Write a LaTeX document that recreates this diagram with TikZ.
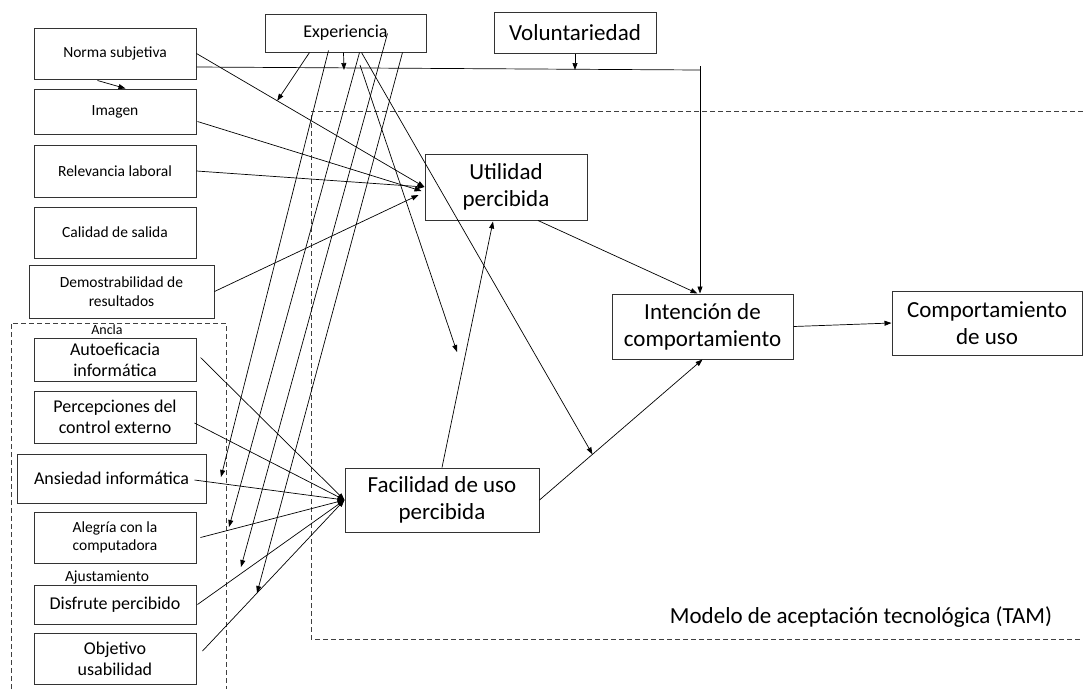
\documentclass[tikz,border=0pt]{standalone}
\usepackage{fontspec}
\setmainfont{Carlito}
\usetikzlibrary{arrows.meta,calc}
\begin{document}
\begin{tikzpicture}[x=1pt,y=-1pt,
  box/.style={draw=black!80, line width=1pt, inner sep=0pt, align=center},
  wh/.style 2 args={minimum width=#1pt, minimum height=#2pt},
  big/.style={font=\fontsize{23}{27}\selectfont},
  mid/.style={font=\fontsize{18}{21}\selectfont},
  sml/.style={font=\fontsize{15.5}{18.5}\selectfont},
  tiny/.style={font=\fontsize{14}{16}\selectfont},
  arr/.style={draw=black, line width=0.7pt, -{Triangle[length=7pt,width=5pt]}},
  ln/.style={draw=black, line width=0.7pt},
  grp/.style={draw=black!75, line width=0.8pt, dash pattern=on 5pt off 3pt}]
\useasboundingbox (0,0) rectangle (1083,689);

% group frames
\draw[grp] (1083,111) -- (311,111) -- (311,639) -- (1083,639);
\draw[grp] (11,689) -- (11,323) -- (226,323) -- (226,689);
\node[big] (tamlbl) at (861,617) {Modelo de aceptación tecnológica (TAM)};
\node[tiny] (ancla) at (107,330) {Ancla};
\node[sml] (ajuste) at (107,577) {Ajustamiento};

% external variables
\node[box, sml, wh={162}{51}] (ns)  at (115,53.5)  {Norma subjetiva};
\node[box, sml, wh={162}{45}] (img) at (115,111.5) {Imagen};
\node[box, sml, wh={162}{52}] (rel) at (115,171)   {Relevancia laboral};
\node[box, sml, wh={162}{51}] (cal) at (115,232.5) {Calidad de salida};
\node[box, sml, wh={185}{53}] (dem) at (121.5,291.5) {Demostrabilidad de\\resultados};
\node[box, mid, wh={161}{38}] (exp) at (345.5,33)  {Experiencia};
\node[box, big, wh={162}{41}] (vol) at (575,32.5)  {Voluntariedad};

% anchor and adjustment variables
\node[box, mid, wh={162}{43}] (ae)  at (115,359.5) {Autoeficacia\\informática};
\node[box, mid, wh={162}{52}] (pce) at (115,417)   {Percepciones del\\control externo};
\node[box, mid, wh={189}{49}] (ai)  at (111.5,478.5) {Ansiedad informática};
\node[box, sml, wh={162}{51}] (ac)  at (115,537.5) {Alegría con la\\computadora};
\node[box, mid, wh={162}{39}] (dp)  at (115,604.5) {Disfrute percibido};
\node[box, mid, wh={162}{51}] (ou)  at (115,658.5) {Objetivo\\usabilidad};

% TAM core
\node[box, big, wh={162}{66}] (ut)   at (506,187)   {Utilidad\\percibida};
\node[box, big, wh={194}{64}] (fac)  at (442,500)   {Facilidad de uso\\percibida};
\node[box, big, wh={181}{65}] (int)  at (702.5,326.5) {Intención de\\comportamiento};
\node[box, big, wh={190}{64}] (comp) at (987,323)   {Comportamiento\\de uso};

% points on connectors where moderators act
\coordinate (mNs)  at ($(ns.east)!0.354!(ut.west)$);
\coordinate (jn)   at (700,70);
\coordinate (jtop) at (700,66);
\coordinate (mVol) at (575,70);
\coordinate (mExp) at (344,70);
\coordinate (mFI)  at ($(fac.east)!0.325!(int.south)$);
\coordinate (mFU)  at (457,352);
\coordinate (hStart) at (360,65);
\coordinate (k1) at (221,477);
\coordinate (k2) at (229,527);
\coordinate (k3) at (241,567);
\coordinate (k4) at (257,593);

% determinants of perceived usefulness
\draw[arr] ($(ns.south west)+(64,1)$) -- ($(img.north west)+(92,0)$);
\draw[arr] (ns.east) -- (ut.west);
\draw[arr] ($(img.east)+(1,10)$) -- ($(ut.west)+(-3,4)$);
\draw[arr] (rel.east) -- (ut.west);
\draw[arr] (dem.east) -- ($(ut.west)+(-6,8)$);

% subjective norm towards intention, moderated by voluntariness
\draw[ln] ($(ns.east)+(0,13.5)$) -- (jn);
\draw[arr] (jtop) -- (jtop |- int.north);
\draw[arr] (vol.south) -- (mVol);

% experience as moderator
\draw[arr] ($(exp.south west)+(45,0)$) -- (mNs);
\draw[arr] ($(exp.south west)+(79,0)$) -- (mExp);
\draw[arr] ($(exp.south west)+(64,-2)$) -- (k1);
\draw[arr] ($(exp.south west)+(95,0)$) -- (k2);
\draw[arr] ($(exp.south west)+(123,-19)$) -- (k3);
\draw[arr] ($(exp.south west)+(138,0)$) -- (k4);
\draw[arr] ($(exp.south west)+(97,0)$) -- (mFI);
\draw[arr] (hStart) -- (mFU);

% determinants of perceived ease of use
\draw[arr] ($(ae.east)+(4,-2)$) -- (fac.west);
\draw[arr] ($(pce.east)+(-2,6)$) -- (fac.west);
\draw[arr] ($(ai.east)+(-12,1.5)$) -- (fac.west);
\draw[arr] ($(ac.east)+(4,0)$) -- (fac.west);
\draw[arr] ($(dp.east)+(1,0)$) -- (fac.west);
\draw[arr] ($(ou.east)+(6,-7.5)$) -- (fac.west);

% TAM relations
\draw[arr] (fac.north) -- ($(ut.south)+(-13,1)$);
\draw[arr] ($(ut.south)+(32,0)$) -- ($(int.north)+(-5,0)$);
\draw[arr] (fac.east) -- (int.south);
\draw[arr] (int.east) -- (comp.west);
\end{tikzpicture}
\end{document}
